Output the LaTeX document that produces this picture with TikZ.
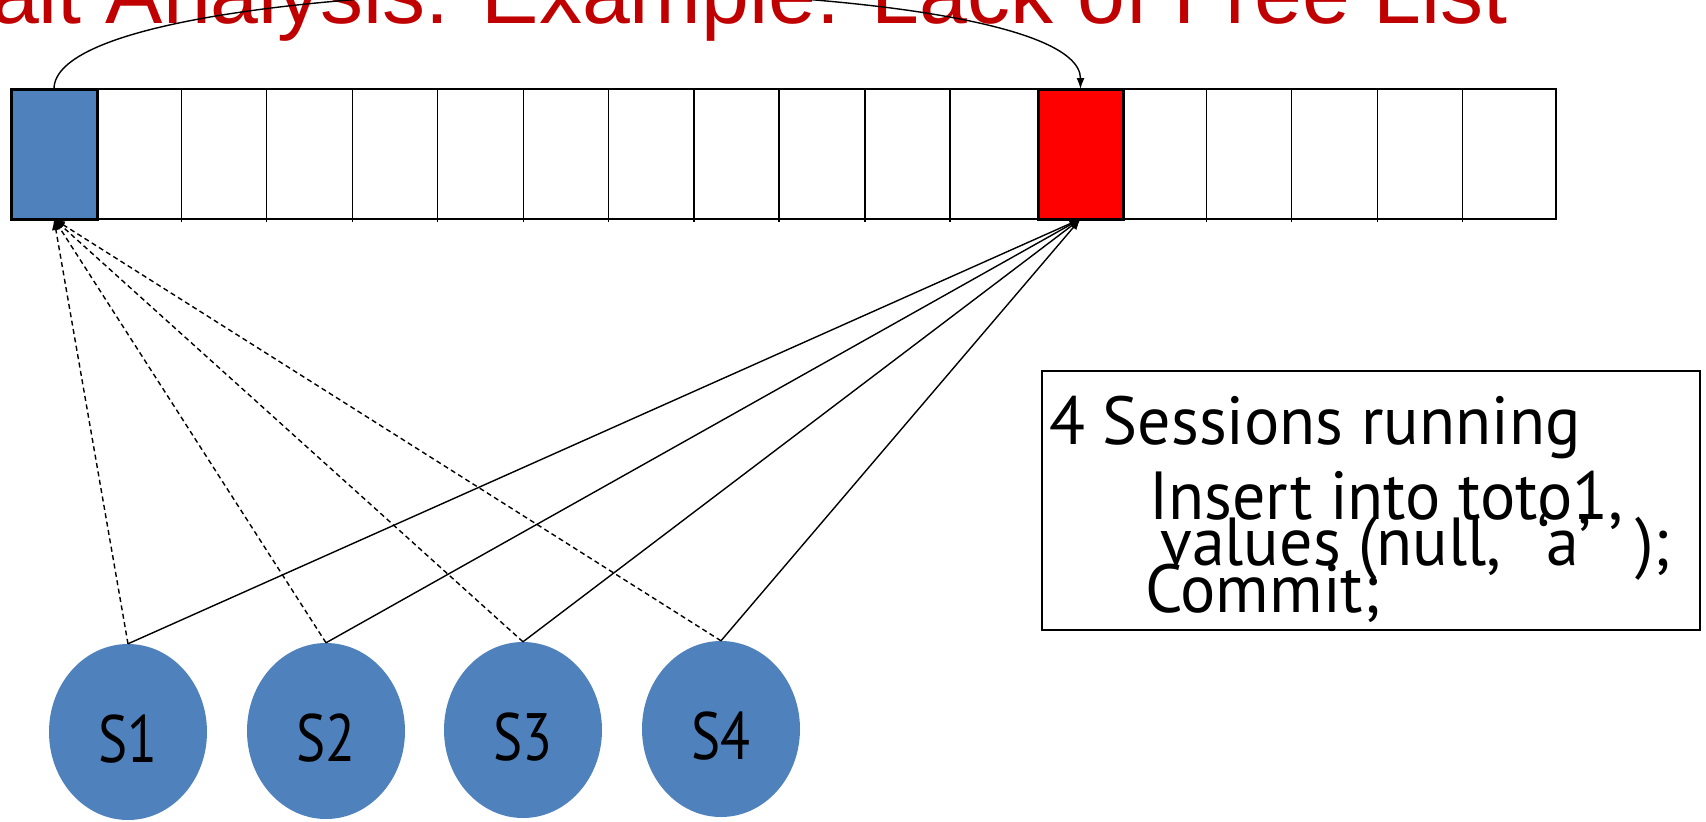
\documentclass[tikz,border=0pt]{standalone}
\usepackage{fontspec}
\setmainfont{Liberation Sans}
\newfontfamily\labelfont[FakeStretch=0.97]{PT Sans}
\newfontfamily\sessfont[FakeStretch=0.82]{PT Sans}
\usetikzlibrary{arrows.meta,shapes.geometric}
\definecolor{sessblue}{HTML}{4F81BD}
\definecolor{titlered}{HTML}{C00000}
\definecolor{hotred}{HTML}{FF0000}

\begin{document}
\begin{tikzpicture}[x=1pt,y=-1pt,
  slot/.style={draw=black, line width=3pt, minimum width=86pt, minimum height=130pt,
    inner sep=0pt, outer sep=0pt},
  divider/.style={line width=1.4pt},
  session/.style={ellipse, fill=sessblue, minimum width=158pt, minimum height=176pt,
    inner sep=0pt, text height=60pt, text depth=0pt,
    font=\sessfont\fontsize{67}{70}\selectfont},
  waitline/.style={line width=1.4pt, -{Latex[length=11pt,width=8pt]}},
  freeline/.style={waitline, dash pattern=on 5pt off 3.5pt},
  boxtext/.style={anchor=base west, inner sep=0pt, font=\labelfont\fontsize{68}{70}\selectfont}]
\useasboundingbox (0,0) rectangle (1706,822);
\clip (0,0) rectangle (1706,822);

% title, partly cut off at the top edge
\node[anchor=base east, inner sep=0pt, text=titlered, font=\fontsize{86}{90}\selectfont]
  (title) at (1508,23) {Wait Analysis: Example: Lack of Free List};

% the block list
\node[draw=black, line width=2.5pt, minimum width=1545pt, minimum height=130pt,
  inner sep=0pt, outer sep=0pt] (bar) at (783.5,154) {};
\foreach \x in {181.7,266.6,352.5,437.4,523.3,608.2,694.1,779.0,865.0,949.8,
                1206.6,1291.5,1377.4,1462.3}
  \draw[divider] (\x,89) -- (\x,222);
\node[slot, fill=sessblue] (blue) at (54,154) {};
\node[slot, fill=hotred, minimum width=85pt] (red) at (1080.5,154) {};

% sessions
\node[session] (s1) at (128,732) {S1};
\node[session] (s2) at (326,731) {S2};
\node[session] (s3) at (523,730) {S3};
\node[session] (s4) at (721,729) {S4};

% each session looks at the free block and ends up on the hot block
\foreach \s in {s1,s2,s3,s4} {
  \draw[freeline] (\s.north) -- (blue.south);
  \draw[waitline] (\s.north) -- (red.south);
}
\draw[waitline] (blue.north) .. controls +(0,-129) and +(0,-129) .. (red.north);

% workload description
\node[draw=black, line width=1.5pt, minimum width=658pt, minimum height=259pt,
  inner sep=0pt, anchor=north west] (box) at (1041,370) {};
\node[boxtext] (l1) at (1049,444) {4 Sessions running};
\node[boxtext] (l2) at (1149,519) {Insert into toto1,};
\node[boxtext] (l3) at (1160,565) {values (null, \hspace*{18pt}‘a’\hspace*{44pt});};
\node[boxtext] (l4) at (1145,612) {Commit;};
\end{tikzpicture}
\end{document}
